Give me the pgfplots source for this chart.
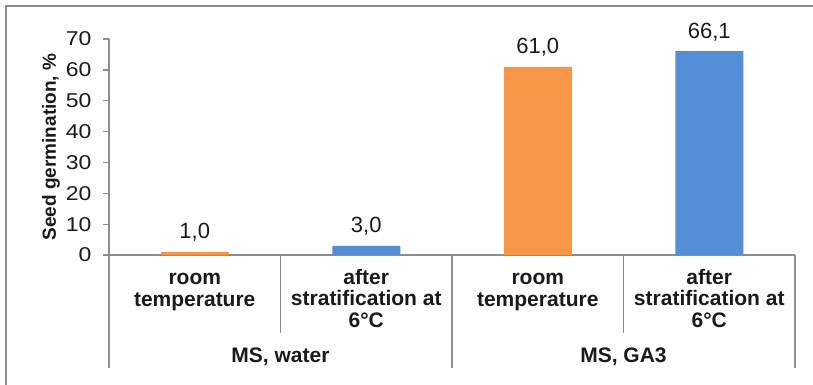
\documentclass[border=0pt]{standalone}
\usepackage{pgfplots}
\pgfplotsset{compat=1.18}
\usepackage{fontspec}
\setmainfont{Liberation Sans}
\newfontfamily\tickfont[FakeStretch=1.15]{Liberation Sans}
\definecolor{barorange}{HTML}{F79646}
\definecolor{barblue}{HTML}{558ED5}
\definecolor{linegray}{HTML}{8C8C8C}
\definecolor{txt}{HTML}{1A1A1A}
\begin{document}
\begin{tikzpicture}
\useasboundingbox (-109pt,-129pt) rectangle (704pt,255pt);
\draw[linegray, line width=1.3pt] (-103pt,-140pt) -- (-103pt,249pt) -- (720pt,249pt);
\begin{axis}[
 at={(0pt,0pt)}, anchor=south west,
 scale only axis, width=686pt, height=216pt,
 xmin=-0.5, xmax=3.5, ymin=0, ymax=70,
 axis x line=bottom, axis y line=left,
 axis line style={-, linegray, line width=1.3pt},
 xtick=\empty, ytick={0,10,...,70},
 tick align=outside, major tick length=6pt,
 y tick style={linegray, line width=1.3pt},
 yticklabel style={font=\tickfont\fontsize{20}{20}\selectfont, color=txt, xshift=-8pt},
 /pgf/number format/assume math mode=true,
 ybar, bar width=68pt, bar shift=0pt,
 clip=false,
 nodes near coords={\pgfmathprintnumber[fixed,fixed zerofill,precision=1,use comma,assume math mode=true]{\pgfplotspointmeta}},
 nodes near coords style={font=\fontsize{22}{22}\selectfont, anchor=base, yshift=13pt, color=txt},
]
\addplot[fill=barorange, draw=none] coordinates {(0,1.0) (2,61.0)};
\addplot[fill=barblue, draw=none] coordinates {(1,3.0) (3,66.1)};
\draw[linegray, line width=1.3pt] (axis cs:-0.5,0) -- ++(0pt,-113pt);
\draw[linegray, line width=1.3pt] (axis cs:0.5,0) -- ++(0pt,-78pt);
\draw[linegray, line width=1.3pt] (axis cs:1.5,0) -- ++(0pt,-113pt);
\draw[linegray, line width=1.3pt] (axis cs:2.5,0) -- ++(0pt,-78pt);
\draw[linegray, line width=1.3pt] (axis cs:3.5,0) -- ++(0pt,-113pt);
\node[anchor=base, yshift=-51pt, align=center, text=txt, font=\bfseries\fontsize{21}{21.5}\selectfont] at (axis cs:0,0) {room\\temperature};
\node[anchor=base, yshift=-72pt, align=center, text=txt, font=\bfseries\fontsize{21}{21.5}\selectfont] at (axis cs:1,0) {after\\stratification at\\6°C};
\node[anchor=base, yshift=-51pt, align=center, text=txt, font=\bfseries\fontsize{21}{21.5}\selectfont] at (axis cs:2,0) {room\\temperature};
\node[anchor=base, yshift=-72pt, align=center, text=txt, font=\bfseries\fontsize{21}{21.5}\selectfont] at (axis cs:3,0) {after\\stratification at\\6°C};
\node[anchor=base, yshift=-107pt, text=txt, font=\bfseries\fontsize{21}{21.5}\selectfont] at (axis cs:0.5,0) {MS, water};
\node[anchor=base, yshift=-107pt, text=txt, font=\bfseries\fontsize{21}{21.5}\selectfont] at (axis cs:2.5,0) {MS, GA3};
\end{axis}
\node[rotate=90, text=txt, font=\bfseries\fontsize{19}{19}\selectfont] at (-58pt,108pt) {Seed germination, \%};
\end{tikzpicture}
\end{document}
